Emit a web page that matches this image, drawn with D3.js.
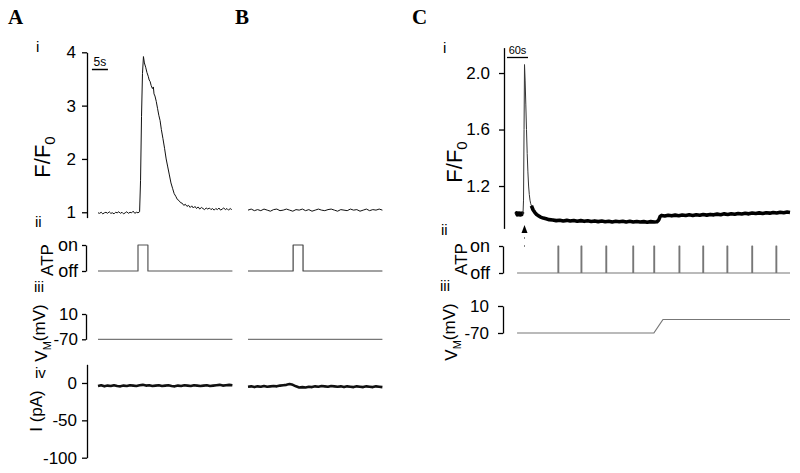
<!DOCTYPE html>
<html><head><meta charset="utf-8">
<script src="https://cdn.jsdelivr.net/npm/d3@7"></script>
<style>
body{margin:0;background:#fff}
svg{display:block}
text{font-family:"Liberation Sans",Arial,sans-serif;fill:#000}
text.panel{font-family:"Liberation Serif","Times New Roman",serif;font-weight:bold}
</style>
</head><body>
<svg id="chart" width="800" height="473"></svg>
<script>
// ---------------- DATA ----------------
const panelLetters = ["A","B","C"];
const romanA = ["i","ii","iii","iv"];
const romanC = ["i","ii","iii"];
const ffTicksA = [1,2,3,4];
const ffTicksC = [1.2,1.6,2.0];
const iTicks = [0,-50,-100];
const atpTicks = [0,1];              // off, on
const atpTickLabels = ["off","on"];
const vmTicks = [-70,10];

// Panel A  F/F0 trace  [time s, F/F0]
const ffA = [[0,0.99],[0.5,0.98],[1,1.0],[1.5,0.97],[2,0.99],[2.5,1.0],[3,0.98],[3.5,1.01],[4,0.98],[4.5,0.99],
[5,0.97],[5.5,1.0],[6,0.99],[6.5,1.01],[7,0.98],[7.5,1.0],[8,0.97],[8.5,0.99],[9,1.01],[9.5,0.98],[10,1.0],
[10.5,0.99],[11,1.02],[11.5,0.98],[12,1.0],[12.5,0.99],[13,1.01],[13.3,1.6],[13.6,2.8],[13.9,3.6],[14.2,3.92],
[14.5,3.8],[14.9,3.72],[15.3,3.62],[15.7,3.55],[16.0,3.48],[16.3,3.45],[16.6,3.38],[17.0,3.32],[17.3,3.35],
[17.5,3.22],[17.8,3.18],[18.2,3.08],[18.6,2.95],[19.0,2.82],[19.4,2.72],[19.8,2.55],[20.3,2.38],[20.8,2.2],
[21.3,2.0],[21.8,1.85],[22.3,1.7],[22.8,1.55],[23.3,1.45],[23.8,1.35],[24.3,1.3],[24.8,1.24],[25.3,1.22],
[25.8,1.18],[26.3,1.17],[26.8,1.13],[27.3,1.15],[27.8,1.11],[28.3,1.13],[28.8,1.09],[29.3,1.12],[29.8,1.08],
[30.3,1.11],[30.8,1.07],[31.3,1.1],[31.8,1.06],[32.3,1.09],[32.8,1.07],[33.3,1.05],[33.8,1.08],[34.3,1.06],
[34.8,1.08],[35.3,1.05],[35.8,1.07],[36.3,1.04],[36.8,1.07],[37.3,1.05],[37.8,1.08],[38.3,1.04],[38.8,1.06],
[39.3,1.08],[39.8,1.05],[40.3,1.07],[40.8,1.04],[41.3,1.07],[41.8,1.05]];
// Panel B  F/F0 trace
const ffB = [[0,1.04],[1,1.06],[2,1.03],[3,1.05],[4,1.03],[5,1.06],[6,1.04],[7,1.02],[8,1.05],[9,1.06],[10,1.03],
[11,1.04],[12,1.06],[13,1.04],[14,1.02],[15,1.05],[16,1.04],[17,1.06],[18,1.03],[19,1.05],[20,1.02],[21,1.04],
[22,1.06],[23,1.04],[24,1.03],[25,1.05],[26,1.06],[27,1.04],[28,1.02],[29,1.05],[30,1.04],[31,1.03],[32,1.06],
[33,1.04],[34,1.05],[35,1.02],[36,1.04],[37,1.06],[38,1.03],[39,1.05],[40,1.04],[41,1.06],[42,1.04]];
// ATP on-intervals [start s, end s]
const atpA = [[12.5,15.6]];
const atpB = [[14.1,17.2]];
const atpC = [[120,122],[186,188],[257,259],[334,336],[394,396],[466,468],[534,536],[603,605],[674,676],[743,745]];
// Membrane potential traces [time, mV]
const vmA = [[0,-70],[42,-70]];
const vmB = [[0,-70],[42,-70]];
const vmC = [[3,-70],[394,-70],[420,-30],[783,-30]];
// Current traces [time, pA]
const iA = [[0,-4],[1,-3],[2,-4.5],[3,-3.5],[4,-4],[5,-3],[6,-4],[7,-4.5],[8,-3.5],[9,-4],[10,-3],[11,-3.5],[12,-4],
[13,-3],[14,-2.5],[15,-3.5],[16,-3],[17,-4],[18,-3.5],[19,-3],[20,-4],[21,-3.5],[22,-3],[23,-4],[24,-4.5],[25,-3.5],
[26,-4],[27,-3],[28,-3.5],[29,-4],[30,-3],[31,-3.5],[32,-4],[33,-3.5],[34,-3],[35,-4],[36,-3.5],[37,-3],[38,-2.5],
[39,-3.5],[40,-3],[41,-2.5],[42,-3]];
const iB = [[0,-5],[1,-4.5],[2,-5.5],[3,-4.5],[4,-5],[5,-4],[6,-5],[7,-4.5],[8,-4],[9,-4.5],[10,-3.5],[11,-3],
[12,-2.5],[13,-1.5],[14,-2.5],[15,-4.5],[16,-6],[17,-5.5],[18,-6],[19,-5],[20,-5.5],[21,-4.5],[22,-5],[23,-4],
[24,-4.5],[25,-5],[26,-4],[27,-4.5],[28,-5],[29,-4.5],[30,-5.5],[31,-4.5],[32,-5],[33,-5.5],[34,-4.5],[35,-5],
[36,-5.5],[37,-4.5],[38,-5],[39,-5.5],[40,-4.5],[41,-5],[42,-5.5]];
// Panel C  F/F0 trace (pre, spike, post)
const ffCpre = [[0,1.0],[2,1.008],[4,0.998],[6,1.006],[8,1.0],[10,1.007],[12,0.997],[14,1.005],[16,1.0],[18,1.006],[20,1.0]];
const ffCspike = [[20,1.0],[21.5,1.1],[23,1.6],[24.3,2.06],[26,1.95],[28,1.78],[30,1.6],[32,1.43],[34,1.3],[36,1.2],
[38,1.14],[40,1.1],[42,1.075],[45,1.055]];
const ffCpost = [[44,1.06],[49,1.03],[54,1.012],[59,0.998],[64,0.99],[70,0.98],[78,0.973],[86,0.968],[95,0.962],
[105,0.96],[115,0.955],[125,0.958],[135,0.953],[145,0.957],[155,0.952],[165,0.956],[175,0.951],[185,0.955],
[195,0.95],[205,0.954],[215,0.949],[225,0.953],[235,0.948],[245,0.952],[255,0.947],[265,0.951],[275,0.946],
[285,0.95],[295,0.947],[305,0.951],[315,0.946],[325,0.95],[335,0.945],[345,0.949],[355,0.945],[365,0.948],
[375,0.944],[385,0.948],[395,0.945],[403,0.947],[408,0.96],[412,0.985],[416,0.992],[425,0.988],[435,0.993],
[445,0.989],[455,0.994],[465,0.99],[475,0.995],[485,0.991],[495,0.996],[505,0.992],[515,0.997],[525,0.993],
[535,0.998],[545,0.994],[555,0.999],[565,0.996],[575,1.001],[585,0.997],[595,1.003],[605,0.999],[615,1.004],
[625,1.0],[635,1.006],[645,1.002],[655,1.007],[665,1.003],[675,1.009],[685,1.005],[695,1.01],[705,1.006],
[715,1.011],[725,1.008],[735,1.013],[745,1.009],[755,1.014],[765,1.011],[775,1.016],[783,1.013]];
const stimTimeC = 24.3;           // arrowhead
const scaleBarA = [-1.9, 5];      // start, length (s)
const scaleBarC = [-25.7, 60];

// ---------------- SCALES ----------------
const svg = d3.select("#chart");
const xA = d3.scaleLinear().domain([0,42]).range([98,232.4]);
const xB = d3.scaleLinear().domain([0,42]).range([248,382.4]);
const xC = d3.scaleLinear().domain([0,783]).range([516,790]);

const yFA = d3.scaleLinear().domain([0.9,4]).range([217.6,52.3]);
const yAtpA = d3.scaleLinear().domain([0,1]).range([271,245]);
const yVmA = d3.scaleLinear().domain([-70,10]).range([339.3,314]);
const yIA = d3.scaleLinear().domain([-100,25]).range([457.7,364.3]);

const yFC = d3.scaleLinear().domain([0.9,2.18]).range([228.4,47.6]);
const yAtpC = d3.scaleLinear().domain([0,1]).range([273,246]);
const yVmC = d3.scaleLinear().domain([-70,10]).range([333,306]);

const intFmt = d => String(d);   // plain hyphen minus as in the figure

// ---------------- HELPERS ----------------
function trace(data, x, y, color, width){
  svg.append("path").datum(data)
    .attr("d", d3.line().x(d=>x(d[0])).y(d=>y(d[1])))
    .attr("fill","none").attr("stroke",color).attr("stroke-width",width)
    .attr("stroke-linejoin","round").attr("stroke-linecap","butt");
}
function stepData(t0,t1,pulses){
  const pts=[[t0,0]];
  pulses.forEach(p=>{pts.push([p[0],0],[p[0],1],[p[1],1],[p[1],0]);});
  pts.push([t1,0]);
  return pts;
}
function axis(gen, xpos, size){
  const g = svg.append("g").attr("transform",`translate(${xpos},0)`).call(gen);
  g.attr("font-family",null);
  g.selectAll("path,line").attr("stroke","#000").attr("stroke-width",1.3);
  g.selectAll("text").attr("font-size",size).attr("fill","#000");
  return g;
}
function vlabel(x,y,parts,size){
  const t = svg.append("text").attr("transform",`translate(${x},${y}) rotate(-90)`)
    .attr("text-anchor","middle").attr("font-size",size);
  parts.forEach(p=>{
    const s=t.append("tspan").text(p[0]);
    if(p[1]) s.attr("font-size",p[1]);
    if(p[2]) s.attr("dy",p[2]);
  });
}
function hlabel(x,y,txt,size){
  return svg.append("text").attr("x",x).attr("y",y).attr("font-size",size).text(txt);
}

// ---------------- PANEL LETTERS ----------------
[[8,24],[235,24],[412,24]].forEach((p,i)=>hlabel(p[0],p[1],panelLetters[i],21).attr("class","panel"));

// ---------------- ROMAN NUMERALS ----------------
[[36,52],[35,227],[34,292],[35,378]].forEach((p,i)=>hlabel(p[0],p[1],romanA[i],15));
[[443,53],[441,235],[440,291]].forEach((p,i)=>hlabel(p[0],p[1],romanC[i],15));

// ---------------- AXES A ----------------
axis(d3.axisLeft(yFA).tickValues(ffTicksA).tickFormat(intFmt).tickSize(5).tickSizeOuter(0).tickPadding(6),87,17);
axis(d3.axisLeft(yAtpA).tickValues(atpTicks).tickFormat(d=>atpTickLabels[d]).tickSize(4).tickSizeOuter(0).tickPadding(4),86,18);
axis(d3.axisLeft(yVmA).tickValues(vmTicks).tickFormat(intFmt).tickSize(4).tickSizeOuter(0).tickPadding(4),86,17);
axis(d3.axisLeft(yIA).tickValues(iTicks).tickFormat(intFmt).tickSize(5).tickSizeOuter(0).tickPadding(5),87,17);

// ---------------- AXES C ----------------
axis(d3.axisLeft(yFC).tickValues(ffTicksC).tickFormat(d3.format(".1f")).tickSize(5).tickSizeOuter(0).tickPadding(9),504,17);
axis(d3.axisLeft(yAtpC).tickValues(atpTicks).tickFormat(d=>atpTickLabels[d]).tickSize(4).tickSizeOuter(0).tickPadding(9),503,18);
axis(d3.axisLeft(yVmC).tickValues(vmTicks).tickFormat(intFmt).tickSize(5).tickSizeOuter(0).tickPadding(9),503,17);

// ---------------- AXIS TITLES ----------------
vlabel(50,157,[["F/F"],["0",15,"0.3em"]],22);
vlabel(53,260,[["ATP"]],17);
vlabel(47,333,[["V"],["M",11,"0.35em"],["(mV)",17,"-0.35em"]],17);
vlabel(42,411,[["I (pA)"]],17);
vlabel(462,162,[["F/F"],["0",15,"0.3em"]],22);
vlabel(467,259,[["ATP"]],17);
vlabel(457,332,[["V"],["M",11,"0.35em"],["(mV)",17,"-0.35em"]],17);

// ---------------- SCALE BARS ----------------
svg.append("line").attr("x1",xA(scaleBarA[0])).attr("x2",xA(scaleBarA[0]+scaleBarA[1]))
  .attr("y1",69.5).attr("y2",69.5).attr("stroke","#000").attr("stroke-width",1.5);
hlabel(xA(scaleBarA[0]+scaleBarA[1]/2),66,scaleBarA[1]+"s",12).attr("text-anchor","middle");
svg.append("line").attr("x1",xC(scaleBarC[0])).attr("x2",xC(scaleBarC[0]+scaleBarC[1]))
  .attr("y1",57.5).attr("y2",57.5).attr("stroke","#000").attr("stroke-width",1.3);
hlabel(xC(scaleBarC[0]+scaleBarC[1]/2),54,scaleBarC[1]+"s",11).attr("text-anchor","middle");

// ---------------- TRACES A & B ----------------
trace(ffA,xA,yFA,"#111",1);
trace(ffB,xB,yFA,"#111",1);
trace(stepData(0,42,atpA),xA,yAtpA,"#555",1.2);
trace(stepData(0,42,atpB),xB,yAtpA,"#444",1.2);
trace(vmA,xA,yVmA,"#777",1.2);
trace(vmB,xB,yVmA,"#777",1.2);
trace(iA,xA,yIA,"#111",2.6);
trace(iB,xB,yIA,"#111",2.6);

// ---------------- TRACES C ----------------
trace(ffCpre,xC,yFC,"#000",4);
trace(ffCspike,xC,yFC,"#333",1);
trace(ffCpost,xC,yFC,"#000",3.6);
trace(stepData(3,783,atpC),xC,yAtpC,"#777",1.2);
trace(vmC,xC,yVmC,"#777",1.2);

// stimulus arrowhead
const ax = xC(stimTimeC);
svg.append("path").attr("d",`M${ax},225 L${ax-3},233 L${ax+3},233 Z`).attr("fill","#000");
svg.append("line").attr("x1",ax).attr("x2",ax).attr("y1",237).attr("y2",249)
  .attr("stroke","#888").attr("stroke-width",1).attr("stroke-dasharray","2,6");
</script>
</body></html>
